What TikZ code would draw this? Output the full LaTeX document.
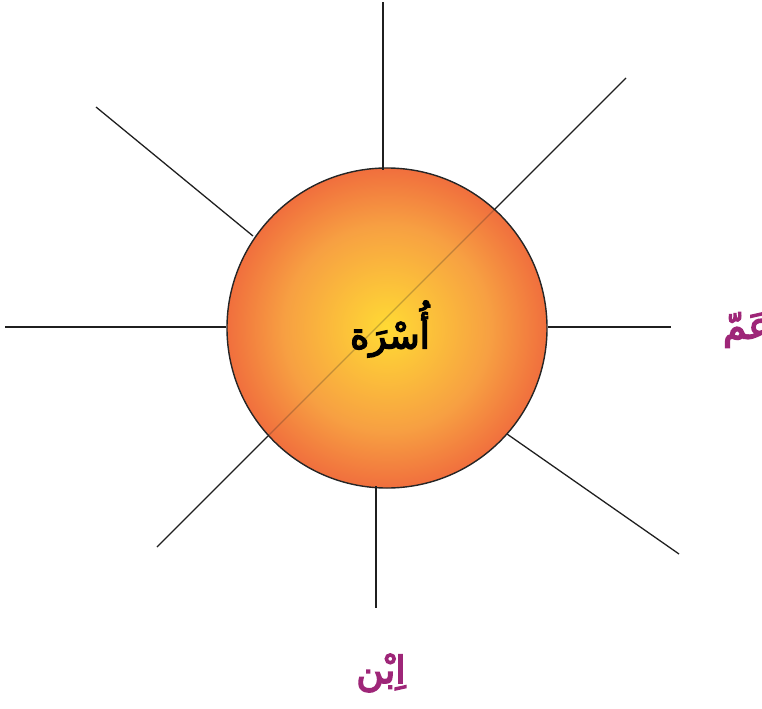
\documentclass[tikz,border=0pt]{standalone}
\usepackage{fontspec}
\newfontfamily\arabicfont[Script=Arabic, FakeBold=4]{DejaVu Sans}
\TeXXeTstate=1

\definecolor{sunyellow}{RGB}{255,218,52}
\definecolor{sunorange}{RGB}{247,160,66}
\definecolor{sunred}{RGB}{236,78,58}
\definecolor{kinmagenta}{RGB}{158,38,120}

\pgfdeclareradialshading{sunball}{\pgfpointorigin}{%
  color(0bp)=(sunyellow); color(16bp)=(sunorange);
  color(31bp)=(sunred); color(50bp)=(sunred)}

\begin{document}
\begin{tikzpicture}[
  x=0.03cm, y=-0.03cm,
  ray/.style={line width=1.1pt, draw=black!88},
  ball/.style={circle, draw=black!85, line width=1.2pt, shading=sunball,
    minimum size=9.6cm, inner sep=0pt},
  famlabel/.style={font=\arabicfont\fontsize{31}{35}\selectfont, text=black},
  kinlabel/.style={font=\arabicfont\fontsize{32}{36}\selectfont, text=kinmagenta},
]
\clip (0,0) rectangle (762,709);

% centre circle
\node[ball] (fam) at (387,328) {};

% ray ends (inner on the rim, outer free)
\coordinate (n1) at (383,170);  \coordinate (n2) at (383,2);
\coordinate (ne1) at (494,210); \coordinate (ne2) at (626,78);
\coordinate (e1) at (548,327);  \coordinate (e2) at (671,327);
\coordinate (se1) at (507,434); \coordinate (se2) at (679,554);
\coordinate (s1) at (376,486);  \coordinate (s2) at (376,608);
\coordinate (sw1) at (268,436); \coordinate (sw2) at (157,547);
\coordinate (w1) at (226,327);  \coordinate (w2) at (5,327);
\coordinate (nw1) at (253,236); \coordinate (nw2) at (96,107);

\foreach \r in {n,ne,e,se,s,sw,w,nw} {
  \draw[ray] (\r1) -- (\r2);
}
% the diagonal showing faintly through the shading
\draw[ray, opacity=0.25] (ne1) -- (sw1);

% labels
\node[famlabel] (family) at (390,329) {\beginR أُسْرَة\endR};
\node[kinlabel, anchor=west] (uncle) at (719,330) {\beginR عَمّ\endR};
\node[kinlabel] (son) at (381,673) {\beginR اِبْن\endR};
\end{tikzpicture}
\end{document}
